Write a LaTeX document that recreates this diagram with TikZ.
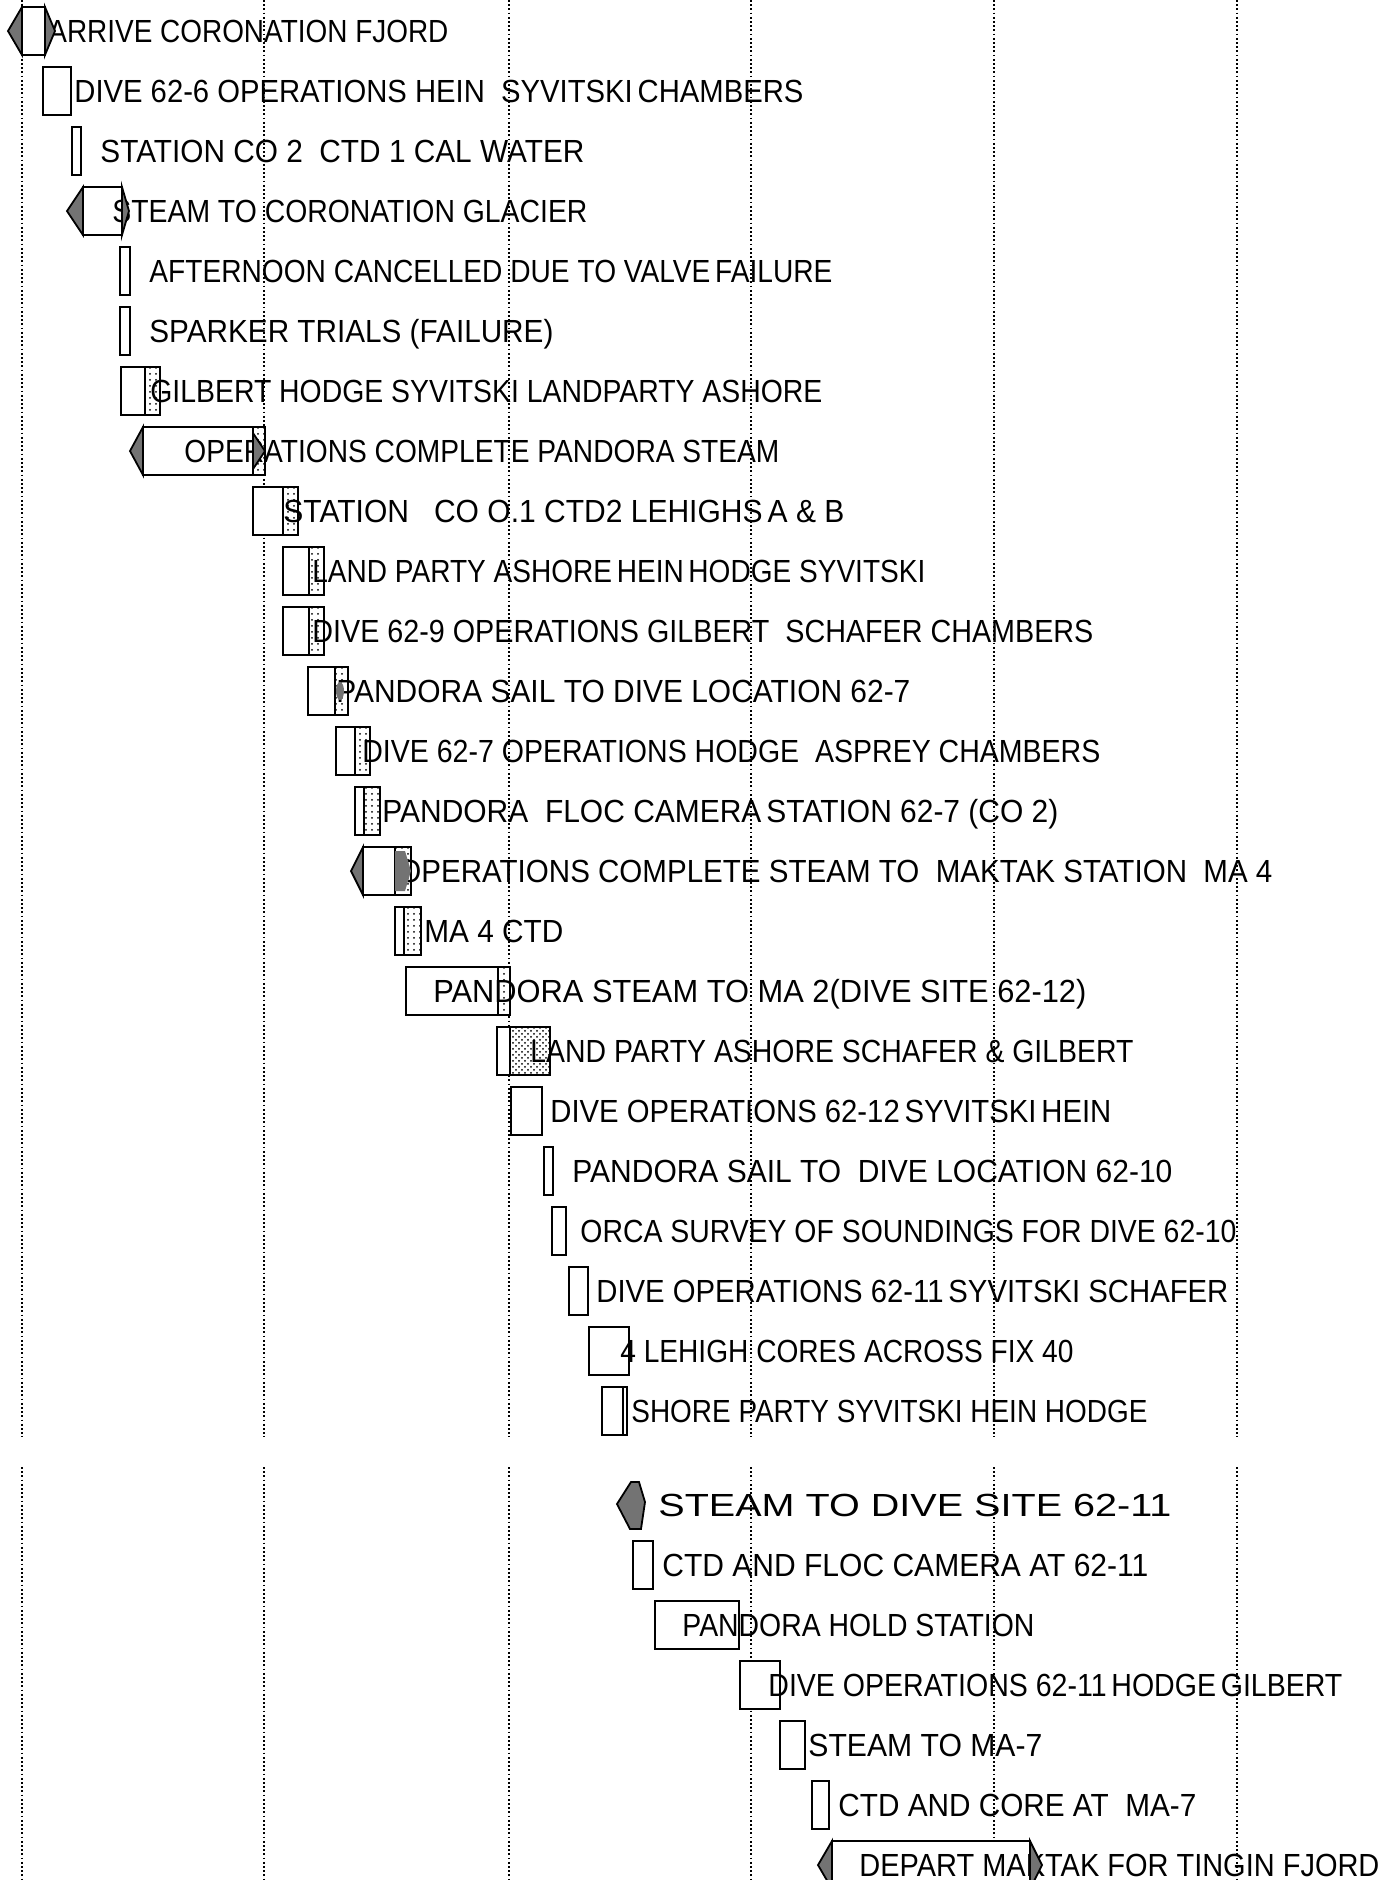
\documentclass[tikz,border=0pt]{standalone}
\usepackage{fontspec}
\usepackage{graphicx}
\usetikzlibrary{patterns}
\newfontfamily\lblfont{Liberation Sans}
\newlength\lblw
\newcommand\fittext[2]{\settowidth\lblw{#2}\pgfmathsetmacro\lblsc{(#1)*0.5/\lblw}\scalebox{\lblsc}[1]{#2}}
\newcommand\evlabel[5]{\node[lbltext] (#1) at (#2,#4+11) {\fittext{#3-#2}{#5}};}
\newcommand\actbox[3]{\draw[actbox] (#1,#3-24) rectangle (#2,#3+24);}
\newcommand\actstip[3]{\fill[pattern=dots] (#1,#3-24) rectangle (#2,#3+24);\draw[thinedge] (#1,#3-24) -- (#1,#3+24);}
\newcommand\actdense[3]{\fill[pattern=crosshatch dots] (#1,#3-24) rectangle (#2,#3+24);\draw[thinedge] (#1,#3-24) -- (#1,#3+24);}
\newcommand\actltip[3]{\filldraw[tipfill] (#2,#3-24) -- (#1,#3) -- (#2,#3+24) -- cycle;}
\newcommand\actrtip[3]{\filldraw[tipfill] (#1,#3-24) -- (#2,#3) -- (#1,#3+24) -- cycle;}
\begin{document}
\begin{tikzpicture}[x=0.5pt,y=-0.5pt,
  gridline/.style={line width=0.9pt, dash pattern=on 0.9pt off 1.2pt},
  actbox/.style={draw, line width=1.1pt, fill=white},
  thinedge/.style={line width=0.8pt},
  tipfill/.style={draw, line width=0.9pt, fill=black!55},
  lbltext/.style={anchor=base west, inner sep=0pt, font={\lblfont\fontsize{16pt}{18pt}\selectfont}}]
\clip (0,0) rectangle (1384,1880);
\fill[white] (0,0) rectangle (1384,1880);
% time grid
\foreach \gx in {22,264,509,751,994,1237} {
  \draw[gridline] (\gx,0) -- (\gx,1437);
  \draw[gridline] (\gx,1467) -- (\gx,1880);
}
% activity boxes
\actbox{22}{45}{31}
\actbox{43}{71}{91}
\actbox{72}{81}{151}
\actbox{83}{122}{211}
\actbox{120}{130}{271}
\actbox{120}{130}{331}
\actbox{121}{160}{391} \actstip{145}{160}{391}
\actbox{143}{265}{451} \actstip{253}{265}{451}
\actbox{253}{298}{511} \actstip{283}{298}{511}
\actbox{283}{324}{571} \actstip{309}{324}{571}
\actbox{283}{324}{631} \actstip{309}{324}{631}
\actbox{308}{348}{691} \actstip{335}{348}{691}
\actbox{336}{370}{751} \actstip{355}{370}{751}
\actbox{355}{380}{811} \actstip{364}{380}{811}
\actbox{363}{411}{871} \actstip{395}{411}{871}
\actbox{395}{421}{931} \actstip{404}{421}{931}
\actbox{406}{510}{991} \actstip{498}{510}{991}
\actbox{497}{550}{1051} \actdense{510}{550}{1051}
\actbox{511}{542}{1111}
\actbox{544}{553}{1171}
\actbox{552}{566}{1231}
\actbox{569}{588}{1291}
\actbox{589}{629}{1351}
\actbox{602}{627}{1411} \draw[thinedge] (623,1387) -- (623,1435);
\actbox{633}{653}{1565}
\actbox{655}{739}{1625}
\actbox{740}{780}{1685}
\actbox{780}{805}{1745}
\actbox{812}{829}{1805}
\actbox{832}{1030}{1865}
% labels
\evlabel{t1}{48}{448}{31}{ARRIVE CORONATION FJORD}
\evlabel{t2}{74}{803}{91}{DIVE 62-6 OPERATIONS HEIN~~SYVITSKI\,CHAMBERS}
\evlabel{t3}{100}{584}{151}{STATION CO 2~~CTD 1 CAL WATER}
\evlabel{t4}{112}{587}{211}{STEAM TO CORONATION GLACIER}
\evlabel{t5}{149}{832}{271}{AFTERNOON CANCELLED DUE TO VALVE\,FAILURE}
\evlabel{t6}{149}{553}{331}{SPARKER TRIALS (FAILURE)}
\evlabel{t7}{150}{822}{391}{GILBERT HODGE SYVITSKI LANDPARTY ASHORE}
\evlabel{t8}{184}{779}{451}{OPERATIONS COMPLETE PANDORA STEAM}
\evlabel{t9}{283}{844}{511}{STATION~~~CO O.1 CTD2 LEHIGHS\,A \& B}
\evlabel{t10}{312}{925}{571}{LAND PARTY ASHORE\,HEIN\,HODGE SYVITSKI}
\evlabel{t11}{312}{1093}{631}{DIVE 62-9 OPERATIONS GILBERT~~SCHAFER CHAMBERS}
\evlabel{t12}{336}{910}{691}{PANDORA SAIL TO DIVE LOCATION 62-7}
\evlabel{t13}{362}{1100}{751}{DIVE 62-7 OPERATIONS HODGE~~ASPREY CHAMBERS}
\evlabel{t14}{382}{1058}{811}{PANDORA~~FLOC CAMERA\,STATION 62-7 (CO 2)}
\evlabel{t15}{398}{1272}{871}{OPERATIONS COMPLETE STEAM TO~~MAKTAK STATION~~MA 4}
\evlabel{t16}{424}{563}{931}{MA 4 CTD}
\evlabel{t17}{433}{1086}{991}{PANDORA STEAM TO MA 2(DIVE SITE 62-12)}
\evlabel{t18}{530}{1133}{1051}{LAND PARTY ASHORE SCHAFER \& GILBERT}
\evlabel{t19}{550}{1111}{1111}{DIVE OPERATIONS 62-12\,SYVITSKI\,HEIN}
\evlabel{t20}{572}{1172}{1171}{PANDORA SAIL TO~~DIVE LOCATION 62-10}
\evlabel{t21}{580}{1236}{1231}{ORCA SURVEY OF SOUNDINGS FOR DIVE 62-10}
\evlabel{t22}{596}{1228}{1291}{DIVE OPERATIONS 62-11\,SYVITSKI SCHAFER}
\evlabel{t23}{620}{1073}{1351}{4 LEHIGH CORES ACROSS FIX 40}
\evlabel{t24}{631}{1147}{1411}{SHORE PARTY SYVITSKI HEIN HODGE}
\evlabel{t25}{658}{1171}{1505}{STEAM TO DIVE SITE 62-11}
\evlabel{t26}{662}{1148}{1565}{CTD AND FLOC CAMERA AT 62-11}
\evlabel{t27}{682}{1034}{1625}{PANDORA HOLD STATION}
\evlabel{t28}{768}{1342}{1685}{DIVE OPERATIONS 62-11\,HODGE\,GILBERT}
\evlabel{t29}{808}{1042}{1745}{STEAM TO MA-7}
\evlabel{t30}{838}{1196}{1805}{CTD AND CORE AT~~MA-7}
\evlabel{t31}{859}{1379}{1865}{DEPART MAKTAK FOR TINGIN FJORD}
% shaded points drawn over
\actltip{8}{22}{31} \actrtip{45}{55}{31}
\actltip{67}{83}{211} \actrtip{122}{129}{211}
\actltip{130}{143}{451}
\filldraw[tipfill] (253,433) -- (265,451) -- (253,469) -- cycle;
\fill[black!55] (340,691) ellipse (4 and 9);
\actltip{351}{363}{871}
\fill[black!55] (395,851) -- (405,851) -- (411,871) -- (405,891) -- (395,891) -- cycle;
\filldraw[tipfill] (631,1482) -- (639,1482) -- (645,1502) -- (641,1529) -- (630,1529) -- (617,1504) -- cycle;
\actltip{818}{832}{1865} \actrtip{1030}{1042}{1865}
\end{tikzpicture}
\end{document}
